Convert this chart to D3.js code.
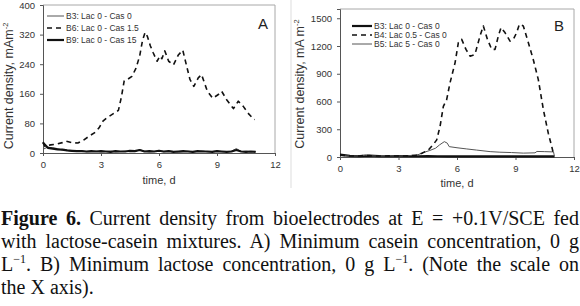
<!DOCTYPE html>
<html>
<head>
<meta charset="UTF-8">
<script src="https://d3js.org/d3.v7.min.js"></script>
<style>
  body { margin: 0; background: #fff; }
  svg { display: block; }
  .tick text { font-family: "Liberation Sans", Arial, sans-serif; }
</style>
</head>
<body>
<svg id="fig" width="580" height="306"></svg>
<script>
// ---- data, panel A (time in days, current density mA m-2) ----
let a_B6 = [[0,30],[0.1,18],[0.4,22],[0.7,24],[1.0,28],[1.2,32],[1.5,28],[1.8,27],[2.1,35],[2.4,46],
  [2.7,56],[2.9,68],[3.1,86],[3.3,95],[3.6,105],[3.9,115],[4.05,150],[4.2,195],[4.4,200],[4.6,207],
  [4.8,228],[5.0,262],[5.15,305],[5.28,326],[5.4,315],[5.55,290],[5.7,271],[5.9,248],[6.05,262],[6.15,255],
  [6.3,276],[6.5,248],[6.75,238],[7.0,265],[7.23,278],[7.43,235],[7.6,199],[7.8,180],[8.03,203],[8.2,212],
  [8.5,167],[8.78,148],[9.07,158],[9.24,167],[9.5,144],[9.85,120],[10.1,140],[10.36,126],[10.6,108],
  [10.85,94],[10.95,90]];
let a_time = [0,0.25,0.5,0.75,1,1.25,1.5,1.75,2,2.25,2.5,2.75,3,3.25,3.5,3.75,4,4.25,4.5,4.75,5,5.25,5.5,
  5.75,6,6.25,6.5,6.75,7,7.25,7.5,7.75,8,8.25,8.5,8.75,9,9.25,9.5,9.75,10,10.25,10.5,10.75,11];
let a_B9 = [28,14,12,10,9,7,6,5,5,4,5,4,5,4,3,5,4,4,6,5,8,4,5,4,6,4,5,3,4,5,4,3,5,4,4,3,5,4,3,4,8,4,3,4,3];
let a_B3 = [10,16,14,12,8,7,5,4,6,3,4,5,3,4,5,3,4,5,3,4,9,5,3,4,5,3,5,4,2,4,5,3,4,6,3,4,5,3,4,5,12,4,5,3,4];
let a_yTicks = [0,80,160,240,320,400];
let a_legend = ["B3: Lac 0 - Cas 0", "B6: Lac 0 - Cas 1.5", "B9: Lac 0 - Cas 15"];

// ---- data, panel B ----
let b_B4 = [[0,20],[0.5,12],[1,10],[1.3,18],[1.6,12],[2,10],[2.5,12],[3,10],[3.5,12],[3.9,18],[4.2,40],
  [4.53,76],[4.8,140],[4.96,185],[5.13,330],[5.3,547],[5.47,620],[5.64,800],[5.9,1018],[6.07,1236],
  [6.24,1272],[6.46,1163],[6.67,1090],[6.92,1109],[7.18,1308],[7.35,1417],[7.56,1272],[7.78,1163],
  [7.95,1163],[8.12,1308],[8.26,1399],[8.46,1345],[8.72,1253],[8.89,1272],[9.06,1345],[9.2,1435],
  [9.4,1417],[9.66,1236],[9.91,1054],[10.17,837],[10.43,511],[10.68,258],[10.86,112],[10.95,30]];
let b_B5 = [[0,15],[0.5,10],[1,12],[1.3,20],[1.6,12],[2,10],[2.5,12],[3,10],[3.5,14],[4.0,25],[4.3,50],
  [4.6,70],[4.9,95],[5.1,130],[5.35,166],[5.5,150],[5.6,112],[6.0,100],[6.5,87],[7.0,75],[7.7,58],
  [8.2,52],[8.8,48],[9.4,42],[10.0,45],[10.1,60],[10.5,58],[10.95,55],[11.0,5]];
let b_time = [0,0.5,1,1.5,2,2.5,3,3.5,4,4.5,5,5.5,6,6.5,7,7.5,8,8.5,9,9.5,10,10.5,11];
let b_B3 = [25,12,10,15,10,8,10,9,8,10,8,6,8,7,6,8,7,6,7,6,8,6,7];
let b_yTicks = [0,300,600,900,1200,1500];
let b_legend = ["B3: Lac 0 - Cas 0", "B4: Lac 0.5 - Cas 0", "B5: Lac 5 - Cas 0"];

let xTicks = [0,3,6,9,12];

let svg = d3.select("#fig");
let sans = "'Liberation Sans', Arial, sans-serif";

let styles = {
  thin:   { w: 1,   color: "#555", dash: null },
  thick:  { w: 2.2, color: "#111", dash: null },
  dashed: { w: 1.6, color: "#111", dash: "5,4" }
};

function panel(cfg) {
  let g = svg.append("g");
  let x = d3.scaleLinear().domain([0, 12]).range([cfg.x0, cfg.x1]);
  let y = d3.scaleLinear().domain([0, cfg.ymax]).range([cfg.y0, cfg.y1]);

  // plot frame (top and right)
  g.append("path")
    .attr("d", `M${x(0)},${cfg.y1}H${x(12)}V${cfg.y0}`)
    .attr("fill", "none").attr("stroke", "#a8a8a8").attr("stroke-width", 1);

  let yAxis = g.append("g")
    .attr("transform", `translate(${x(0)},0)`)
    .call(d3.axisLeft(y).tickValues(cfg.yTicks).tickFormat(d3.format("d")).tickSize(3).tickPadding(cfg.ypad));
  let xAxis = g.append("g")
    .attr("transform", `translate(0,${y(0)})`)
    .call(d3.axisBottom(x).tickValues(xTicks).tickSize(3).tickPadding(5));
  [yAxis, xAxis].forEach(ax => {
    ax.select(".domain").attr("stroke", "#555");
    ax.selectAll(".tick line").attr("stroke", "#555");
    ax.selectAll(".tick text").attr("fill", "#333").style("font-size", "9.5px");
  });

  let line = d3.line().x(d => x(d[0])).y(d => y(d[1]));
  cfg.series.forEach(s => {
    let st = styles[s.style];
    g.append("path")
      .datum(s.data)
      .attr("d", line)
      .attr("fill", "none")
      .attr("stroke", st.color)
      .attr("stroke-width", st.w)
      .attr("stroke-dasharray", st.dash)
      .attr("stroke-linejoin", "round");
  });

  // legend
  cfg.series.slice().sort((a, b) => a.li - b.li).forEach((s, i) => {
    let st = styles[s.style];
    let ly = cfg.legY + i * cfg.legStep;
    g.append("line")
      .attr("x1", cfg.legX).attr("x2", cfg.legX + cfg.legLen)
      .attr("y1", ly).attr("y2", ly)
      .attr("stroke", st.color).attr("stroke-width", st.w)
      .attr("stroke-dasharray", st.dash);
    g.append("text")
      .attr("x", cfg.legX + cfg.legLen + 2).attr("y", ly + 3)
      .style("font-family", sans).style("font-size", "8.5px").attr("fill", "#333")
      .text(cfg.legend[s.li]);
  });

  // panel letter
  g.append("text")
    .attr("x", cfg.letter[0]).attr("y", cfg.letter[1])
    .attr("text-anchor", "middle")
    .style("font-family", sans).style("font-size", "15px").attr("fill", "#222")
    .text(cfg.name);

  // axis titles
  g.append("text")
    .attr("x", (cfg.x0 + cfg.x1) / 2).attr("y", cfg.xTitleY)
    .attr("text-anchor", "middle")
    .style("font-family", sans).style("font-size", "11px").attr("fill", "#333")
    .text("time, d");

  let yt = g.append("text")
    .attr("transform", `translate(${cfg.yTitleX},${cfg.yTitleY}) rotate(-90)`)
    .attr("text-anchor", "middle")
    .style("font-family", sans).style("font-size", "12.5px").attr("fill", "#333");
  yt.append("tspan").text(cfg.yTitle);
  yt.append("tspan").attr("dy", -5).style("font-size", "7.5px").text("-2");
}

panel({
  name: "A", x0: 43, x1: 275, y0: 153, y1: 5, ymax: 400, yTicks: a_yTicks, ypad: 5,
  series: [
    { data: a_time.map((t, i) => [t, a_B3[i]]), style: "thin", li: 0 },
    { data: a_time.map((t, i) => [t, a_B9[i]]), style: "thick", li: 2 },
    { data: a_B6, style: "dashed", li: 1 }
  ],
  legend: a_legend, legX: 47, legY: 16, legStep: 12, legLen: 17,
  letter: [263, 29], xTitleY: 184, yTitleX: 13, yTitleY: 86, yTitle: "Current density, mAm"
});

panel({
  name: "B", x0: 340, x1: 574, y0: 157, y1: 9, ymax: 1600, yTicks: b_yTicks, ypad: 5,
  series: [
    { data: b_time.map((t, i) => [t, b_B3[i]]), style: "thick", li: 0 },
    { data: b_B5, style: "thin", li: 2 },
    { data: b_B4, style: "dashed", li: 1 }
  ],
  legend: b_legend, legX: 352, legY: 26, legStep: 9, legLen: 20,
  letter: [559, 31], xTitleY: 187, yTitleX: 304, yTitleY: 84, yTitle: "Current density, mA m"
});

// faint separator between the two chart areas
svg.append("line").attr("x1", 291).attr("x2", 291).attr("y1", 0).attr("y2", 188)
  .attr("stroke", "#ddd");

// ---- caption (justified lines) ----
let serif = "'Liberation Serif', 'Times New Roman', serif";
let capLines = [
  [{ t: "Figure 6.", b: true }, { t: " Current density from bioelectrodes at E = +0.1V/SCE fed" }],
  [{ t: "with lactose-casein mixtures. A) Minimum casein concentration, 0 g" }],
  [{ t: "L" }, { t: "\u22121", sup: true }, { t: ". B) Minimum lactose concentration, 0 g L" }, { t: "\u22121", sup: true },
   { t: ". (Note the scale on" }],
  [{ t: "the X axis)." }]
];
let capY = [224.5, 247.8, 271.1, 294.4];
capLines.forEach((parts, i) => {
  let tx = svg.append("text")
    .attr("x", 1).attr("y", capY[i])
    .style("font-family", serif).style("font-size", "20px").attr("fill", "#111")
    .attr("xml:space", "preserve");
  parts.forEach((p, k) => {
    let ts = tx.append("tspan").text(p.t);
    if (p.b) ts.style("font-weight", "bold");
    if (p.sup) ts.style("font-size", "12px").attr("dy", -8);
    else if (k > 0 && parts[k - 1].sup) ts.attr("dy", 8);
  });
  if (i < capLines.length - 1) {
    let full = parts.map(p => p.t).join("");
    let spaces = (full.match(/ /g) || []).length;
    let len = tx.node().getComputedTextLength();
    tx.style("word-spacing", ((578 - len) / spaces) + "px");
  }
});
</script>
</body>
</html>
